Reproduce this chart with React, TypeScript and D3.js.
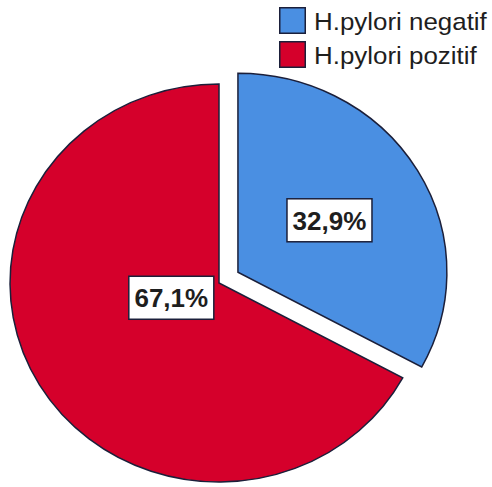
import React, { useEffect } from "react";
import * as d3 from "d3";

// Pie of H. pylori status
const categories = ["H.pylori negatif", "H.pylori pozitif"];
const percents = [32.9, 67.1];
const labels = ["32,9%", "67,1%"];
const colors = ["#4A8FE2", "#D5002B"];
// label placement for each slice: fraction of radius, angle in degrees (clockwise from top)
const labelPlacement: [number, number][] = [
  [0.51, 59.2],
  [0.24, 252],
];
const explode = [21, 0];

const W = 492;
const H = 487;
const R = 199;
const SX = 1.05; // horizontal stretch of the pie
const CX = 219;
const CY = 283;

export default function App() {
  useEffect(() => {
    document.body.style.margin = "0";
  }, []);

  const pie = d3.pie<number>().value((d) => d).sort(null);
  const arcs = pie(percents);
  const arc = d3.arc<d3.PieArcDatum<number>>().innerRadius(0).outerRadius(R);

  return (
    <svg width={W} height={H} style={{ display: "block", background: "#fff" }}>
      <g transform={`translate(${CX},${CY}) scale(${SX},1)`}>
        {arcs.map((a, i) => {
          const mid = (a.startAngle + a.endAngle) / 2;
          const dx = Math.sin(mid) * explode[i];
          const dy = -Math.cos(mid) * explode[i];
          return (
            <path
              key={i}
              d={arc(a) || ""}
              transform={`translate(${dx},${dy})`}
              fill={colors[i]}
              stroke="#1b1f3a"
              strokeWidth={1.5}
              vectorEffect="non-scaling-stroke"
            />
          );
        })}
      </g>
      {arcs.map((a, i) => {
        const mid = (a.startAngle + a.endAngle) / 2;
        const ox = Math.sin(mid) * explode[i] * SX;
        const oy = -Math.cos(mid) * explode[i];
        const [f, deg] = labelPlacement[i];
        const ang = (deg * Math.PI) / 180;
        const x = CX + ox + Math.sin(ang) * R * f * SX;
        const y = CY + oy - Math.cos(ang) * R * f;
        const bw = 85;
        const bh = 43;
        return (
          <g key={"l" + i} transform={`translate(${x},${y})`}>
            <rect
              x={-bw / 2}
              y={-bh / 2}
              width={bw}
              height={bh}
              fill="#fff"
              stroke="#1b1f3a"
              strokeWidth={1.5}
            />
            <text
              textAnchor="middle"
              dy="0.36em"
              fontFamily="'Liberation Sans', Arial, sans-serif"
              fontWeight="bold"
              fontSize={26}
              fill="#1e1e1e"
            >
              {labels[i]}
            </text>
          </g>
        );
      })}
      {categories.map((c, i) => (
        <g key={"g" + i} transform={`translate(279,${7 + i * 34})`}>
          <rect
            x={0.75}
            y={0.75}
            width={25.5}
            height={25.5}
            fill={colors[i]}
            stroke="#1b1f3a"
            strokeWidth={1.5}
          />
          <text
            x={35}
            y={23}
            fontFamily="'Liberation Sans', Arial, sans-serif"
            fontSize={24}
            fill="#1e1e1e"
            transform="translate(35,0) scale(1.08,1) translate(-35,0)"
          >
            {c}
          </text>
        </g>
      ))}
    </svg>
  );
}
